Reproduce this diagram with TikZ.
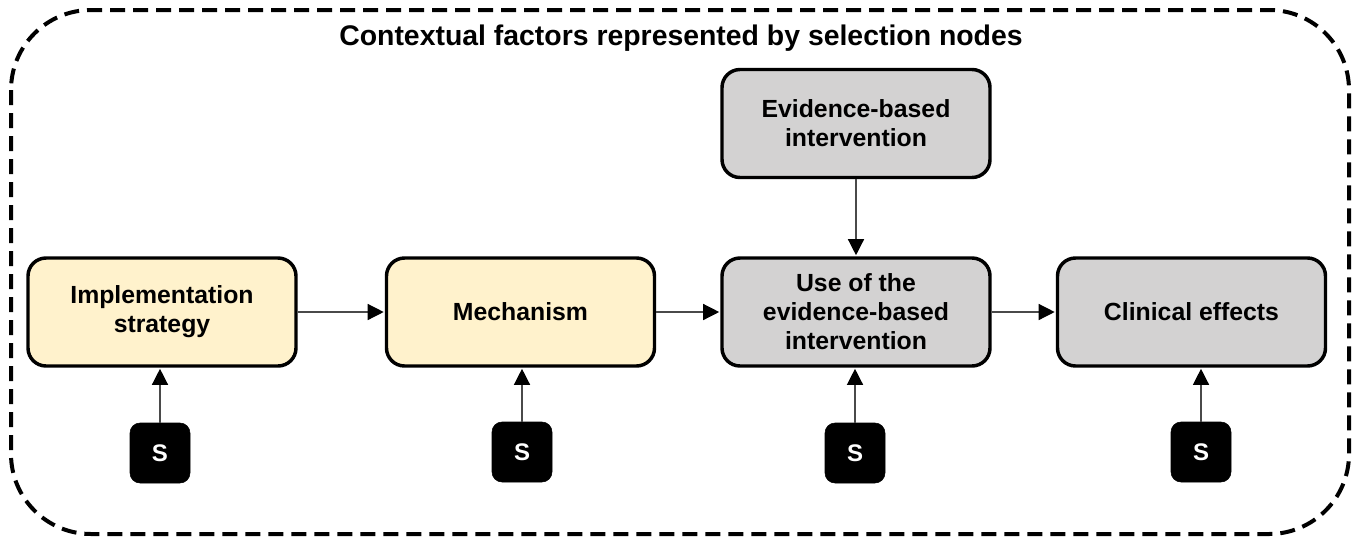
\documentclass[tikz,border=0pt]{standalone}
\usepackage{fontspec}
\setmainfont{Liberation Sans}
\usetikzlibrary{arrows.meta}
\definecolor{boxyellow}{HTML}{FFF2CC}
\definecolor{boxgray}{HTML}{D3D2D2}
\definecolor{linegray}{HTML}{4A4A4A}
\begin{document}
\begin{tikzpicture}[x=0.75pt,y=-0.75pt,
  proc/.style={draw=black, line width=2.6pt, rounded corners=13.5pt,
    minimum width=201pt, minimum height=81pt, align=center, inner sep=0pt,
    font=\fontsize{18.6}{21.75}\selectfont\bfseries},
  ybox/.style={proc, fill=boxyellow},
  gbox/.style={proc, fill=boxgray},
  selnode/.style={fill=black, draw=black, rounded corners=7.5pt, minimum size=45pt,
    inner sep=0pt, text=white, font=\fontsize{18}{20}\selectfont\bfseries},
  arr/.style={draw=linegray, line width=1pt,
    -{Triangle[length=12pt,width=12pt,fill=black,color=black]}, shorten >=0.8pt},
  frame/.style={line width=3pt, dash pattern=on 11.25pt off 6pt, rounded corners=60pt}
]
\useasboundingbox (0,0) rectangle (1360,544);
\draw[frame] (11,10) rectangle (1349,534);
\node[font=\fontsize{21.3}{24}\selectfont\bfseries] (title) at (681,38) {Contextual factors represented by selection nodes};

\node[ybox] (b1) at (162,312) {Implementation\\strategy\vphantom{I}};
\node[ybox] (b2) at (520.5,312) {Mechanism};
\node[gbox] (b3) at (856,312) {Use of the\\evidence-based\\intervention};
\node[gbox] (b4) at (1191.5,312) {Clinical effects};
\node[gbox] (ebi) at (856,123.5) {Evidence-based\\intervention};

\node[selnode] (s1) at (160,453) {S};
\node[selnode] (s2) at (522,452) {S};
\node[selnode] (s3) at (855,453) {S};
\node[selnode] (s4) at (1201,452) {S};

\draw[arr] (b1.east) -- (b2.west);
\draw[arr] (b2.east) -- (b3.west);
\draw[arr] (b3.east) -- (b4.west);
\draw[arr] (ebi.south) -- (b3.north);
\draw[arr] (s1.north) -- (s1.north |- b1.south);
\draw[arr] (s2.north) -- (s2.north |- b2.south);
\draw[arr] (s3.north) -- (s3.north |- b3.south);
\draw[arr] (s4.north) -- (s4.north |- b4.south);
\end{tikzpicture}
\end{document}
